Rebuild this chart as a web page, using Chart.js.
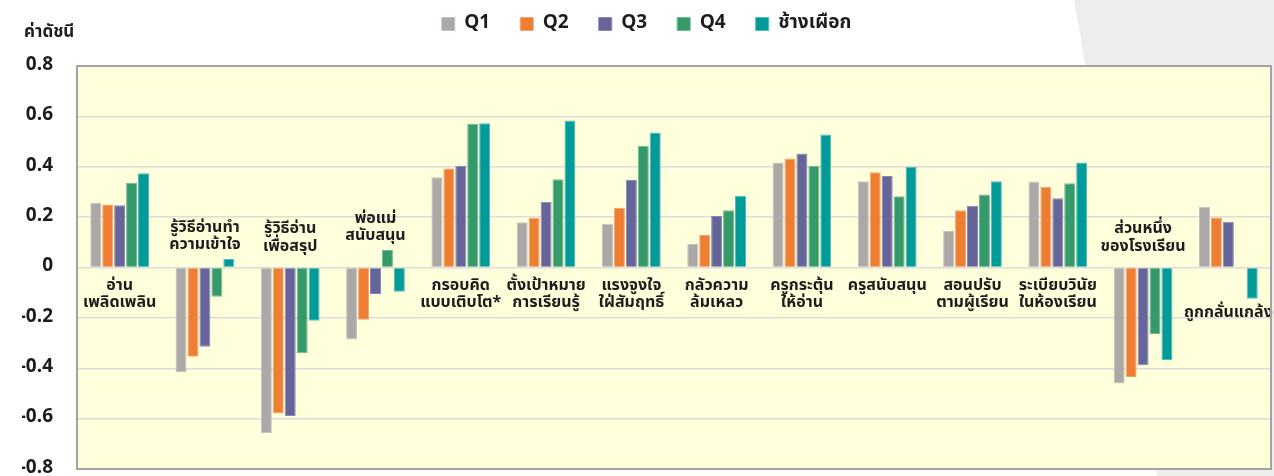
<!DOCTYPE html>
<html>
<head>
<meta charset="utf-8">
<script src="https://cdn.jsdelivr.net/npm/chart.js@4.4.1/dist/chart.umd.min.js"></script>
<style>
  html, body { margin: 0; padding: 0; background: #ffffff; }
  #wrap { position: relative; width: 1274px; height: 476px; overflow: hidden; }
  #shade { position: absolute; left: 0; top: 0; width: 1274px; height: 476px; background: #ededed;
           clip-path: polygon(1074px 0, 1274px 0, 1274px 476px, 1157px 476px); }
  canvas { position: absolute; left: 0; top: 0; }
</style>
</head>
<body>
<div id="wrap"><div id="shade"></div><canvas id="c" width="1274" height="476"></canvas></div>
<script>
const categories = [
  ['อ่าน', 'เพลิดเพลิน'],
  ['รู้วิธีอ่านทำ', 'ความเข้าใจ'],
  ['รู้วิธีอ่าน', 'เพื่อสรุป'],
  ['พ่อแม่', 'สนับสนุน'],
  ['กรอบคิด', 'แบบเติบโต*'],
  ['ตั้งเป้าหมาย', 'การเรียนรู้'],
  ['แรงจูงใจ', 'ใฝ่สัมฤทธิ์'],
  ['กลัวความ', 'ล้มเหลว'],
  ['ครูกระตุ้น', 'ให้อ่าน'],
  ['ครูสนับสนุน'],
  ['สอนปรับ', 'ตามผู้เรียน'],
  ['ระเบียบวินัย', 'ในห้องเรียน'],
  ['ส่วนหนึ่ง', 'ของโรงเรียน'],
  ['ถูกกลั่นแกล้ง']
];
const seriesNames = ['Q1', 'Q2', 'Q3', 'Q4', 'ช้างเผือก'];
const q1 = [0.257, -0.416, -0.657, -0.286, 0.358, 0.180, 0.174, 0.093, 0.417, 0.342, 0.145, 0.341, -0.461, 0.241];
const q2 = [0.250, -0.354, -0.580, -0.207, 0.393, 0.198, 0.237, 0.129, 0.433, 0.378, 0.227, 0.321, -0.435, 0.199];
const q3 = [0.247, -0.315, -0.590, -0.105, 0.404, 0.261, 0.347, 0.204, 0.453, 0.363, 0.245, 0.275, -0.388, 0.182];
const q4 = [0.336, -0.116, -0.340, 0.069, 0.571, 0.350, 0.483, 0.227, 0.404, 0.283, 0.290, 0.334, -0.264, 0.003];
const whiteElephant = [0.374, 0.034, -0.211, -0.096, 0.573, 0.584, 0.536, 0.285, 0.528, 0.399, 0.342, 0.417, -0.367, -0.124];
const yTicks = [-0.8, -0.6, -0.4, -0.2, 0, 0.2, 0.4, 0.6, 0.8];
const yTitle = 'ค่าดัชนี';

const fills = ['#aca8a7', '#ee7e33', '#66659b', '#35996a', '#009a99'];
const edges = ['#c4c1c0', '#f5a46e', '#8886b5', '#6cbb94', '#4dbdbc'];
const seriesValues = [q1, q2, q3, q4, whiteElephant];

const FONT = '"Noto Sans Thai", "Noto Sans", "DejaVu Sans", sans-serif';
const TXT = '#1c1c1c';

const bgPlugin = {
  id: 'plotBg',
  beforeDraw(chart) {
    const {ctx, chartArea: a} = chart;
    ctx.save();
    ctx.fillStyle = '#ffffdc';
    ctx.fillRect(a.left, a.top, a.right - a.left, a.bottom - a.top);
    ctx.restore();
  },
  afterLayout(chart) {
    if (chart.legend) { chart.legend.top -= 22.5; chart.legend.bottom -= 22.5; }
  },
  afterDraw(chart) {
    const {ctx, chartArea: a} = chart;
    ctx.save();
    ctx.strokeStyle = '#a3a3a3';
    ctx.lineWidth = 2;
    ctx.strokeRect(a.left, a.top, a.right - a.left, a.bottom - a.top);
    ctx.fillStyle = TXT;
    ctx.font = 'bold 17px ' + FONT;
    ctx.textAlign = 'left';
    ctx.textBaseline = 'middle';
    ctx.fillText(yTitle, 24, 34);
    ctx.restore();
  }
};

const catLabelPlugin = {
  id: 'catLabels',
  afterDatasetsDraw(chart) {
    const {ctx} = chart;
    const xs = chart.scales.x, ys = chart.scales.y;
    const zero = ys.getPixelForValue(0);
    const lineH = 17.5;
    ctx.save();
    ctx.fillStyle = TXT;
    ctx.font = 'bold 16px ' + FONT;
    ctx.textAlign = 'center';
    ctx.textBaseline = 'middle';
    categories.forEach((lines, i) => {
      const vals = seriesValues.map(s => s[i]);
      const sum = vals.reduce((p, v) => p + v, 0);
      const x = xs.getPixelForValue(i);
      if (sum >= 0) {
        const low = ys.getPixelForValue(Math.min(0, ...vals));
        const first = Math.max(zero + 19, low + 15);
        lines.forEach((t, k) => ctx.fillText(t, x, first + k * lineH));
      } else {
        const high = ys.getPixelForValue(Math.max(0, ...vals));
        const last = Math.min(zero - 20, high - 13);
        const n = lines.length;
        lines.forEach((t, k) => ctx.fillText(t, x, last - (n - 1 - k) * lineH));
      }
    });
    ctx.restore();
  }
};

new Chart(document.getElementById('c'), {
  type: 'bar',
  data: {
    labels: categories,
    datasets: seriesNames.map((name, i) => ({
      label: name,
      data: seriesValues[i],
      backgroundColor: fills[i],
      borderColor: edges[i],
      borderWidth: 1,
      categoryPercentage: 0.7,
      barPercentage: 0.92
    }))
  },
  options: {
    responsive: false,
    animation: false,
    devicePixelRatio: 1,
    layout: { padding: { left: 22, right: 3, top: 7, bottom: 7 } },
    plugins: {
      legend: {
        position: 'top',
        align: 'center',
        labels: {
          boxWidth: 13, boxHeight: 13, padding: 30, color: TXT,
          font: { family: FONT, size: 19, weight: 'bold' }
        }
      },
      tooltip: { enabled: false }
    },
    scales: {
      x: {
        display: false
      },
      y: {
        min: -0.8, max: 0.8,
        afterBuildTicks(scale) { scale.ticks = yTicks.map(v => ({ value: v })); },
        afterFit(scale) { scale.width = 55; scale.paddingTop = 0; scale.paddingBottom = 0; },
        ticks: {
          padding: 24, color: TXT,
          font: { family: FONT, size: 19, weight: 'bold', lineHeight: 0.8 },
          callback: v => String(Number(v.toFixed(1)))
        },
        grid: { color: '#dcdcdc', lineWidth: 1.5, drawTicks: false },
        border: { display: false }
      }
    }
  },
  plugins: [bgPlugin, catLabelPlugin]
});
</script>
</body>
</html>
